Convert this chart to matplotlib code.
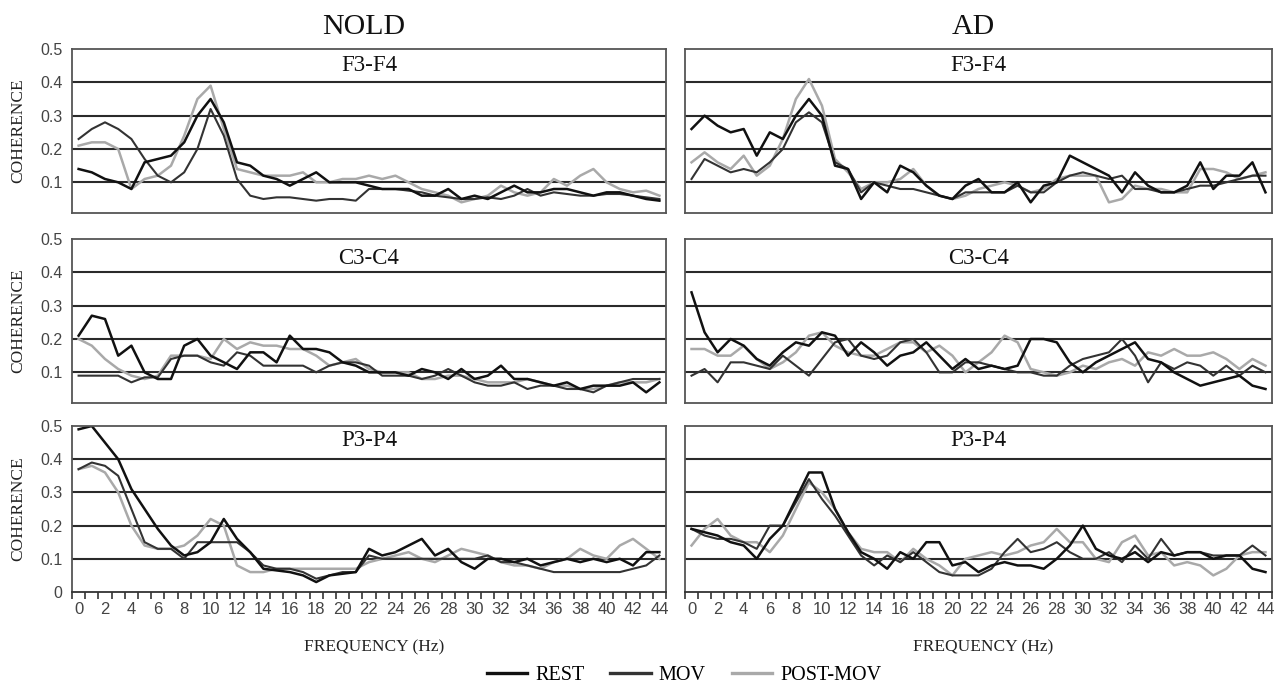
import numpy as np
import matplotlib
matplotlib.use("Agg")
import matplotlib.pyplot as plt
from matplotlib.lines import Line2D

freq = np.arange(45)
xtick_labels = [str(f) for f in range(0, 45, 2)]
groups = ["NOLD", "AD"]
pairs = ["F3-F4", "C3-C4", "P3-P4"]
conditions = ["REST", "MOV", "POST-MOV"]

# NOLD
nold_f3f4_rest = [0.14, 0.13, 0.11, 0.10, 0.08, 0.16, 0.17, 0.18, 0.22, 0.30,
                  0.35, 0.28, 0.16, 0.15, 0.12, 0.11, 0.09, 0.11, 0.13, 0.10,
                  0.10, 0.10, 0.09, 0.08, 0.08, 0.08, 0.06, 0.06, 0.08, 0.05,
                  0.06, 0.05, 0.07, 0.09, 0.07, 0.07, 0.08, 0.08, 0.07, 0.06,
                  0.07, 0.07, 0.06, 0.05, 0.045]
nold_f3f4_mov = [0.23, 0.26, 0.28, 0.26, 0.23, 0.17, 0.12, 0.10, 0.13, 0.20,
                 0.32, 0.24, 0.11, 0.06, 0.05, 0.055, 0.055, 0.05, 0.045, 0.05,
                 0.05, 0.045, 0.08, 0.08, 0.08, 0.075, 0.07, 0.06, 0.055, 0.05,
                 0.05, 0.055, 0.05, 0.06, 0.08, 0.06, 0.07, 0.065, 0.06, 0.06,
                 0.065, 0.065, 0.06, 0.055, 0.05]
nold_f3f4_post = [0.21, 0.22, 0.22, 0.20, 0.08, 0.11, 0.12, 0.15, 0.24, 0.35,
                  0.39, 0.26, 0.14, 0.13, 0.12, 0.12, 0.12, 0.13, 0.10, 0.10,
                  0.11, 0.11, 0.12, 0.11, 0.12, 0.10, 0.08, 0.07, 0.06, 0.04,
                  0.05, 0.06, 0.09, 0.07, 0.06, 0.07, 0.11, 0.09, 0.12, 0.14,
                  0.10, 0.08, 0.07, 0.075, 0.06]

nold_c3c4_rest = [0.21, 0.27, 0.26, 0.15, 0.18, 0.10, 0.08, 0.08, 0.18, 0.20,
                  0.15, 0.13, 0.11, 0.16, 0.16, 0.13, 0.21, 0.17, 0.17, 0.16,
                  0.13, 0.12, 0.10, 0.10, 0.10, 0.09, 0.11, 0.10, 0.08, 0.11,
                  0.08, 0.09, 0.12, 0.08, 0.08, 0.07, 0.06, 0.07, 0.05, 0.06,
                  0.06, 0.06, 0.07, 0.04, 0.07]
nold_c3c4_mov = [0.09, 0.09, 0.09, 0.09, 0.07, 0.085, 0.085, 0.14, 0.15, 0.15,
                 0.13, 0.12, 0.16, 0.15, 0.12, 0.12, 0.12, 0.12, 0.10, 0.12,
                 0.13, 0.13, 0.12, 0.09, 0.09, 0.09, 0.08, 0.09, 0.11, 0.09,
                 0.07, 0.06, 0.06, 0.07, 0.05, 0.06, 0.06, 0.05, 0.05, 0.04,
                 0.06, 0.07, 0.08, 0.08, 0.08]
nold_c3c4_post = [0.20, 0.18, 0.14, 0.11, 0.09, 0.08, 0.09, 0.15, 0.15, 0.15,
                  0.14, 0.20, 0.17, 0.19, 0.18, 0.18, 0.17, 0.17, 0.15, 0.12,
                  0.13, 0.14, 0.11, 0.10, 0.10, 0.10, 0.08, 0.08, 0.09, 0.09,
                  0.08, 0.07, 0.07, 0.07, 0.08, 0.07, 0.06, 0.06, 0.05, 0.05,
                  0.06, 0.07, 0.07, 0.07, 0.08]

nold_p3p4_rest = [0.49, 0.50, 0.45, 0.40, 0.31, 0.25, 0.19, 0.14, 0.11, 0.12,
                  0.15, 0.22, 0.16, 0.12, 0.07, 0.065, 0.06, 0.05, 0.03, 0.05,
                  0.055, 0.06, 0.13, 0.11, 0.12, 0.14, 0.16, 0.11, 0.13, 0.09,
                  0.07, 0.10, 0.10, 0.09, 0.10, 0.08, 0.09, 0.10, 0.09, 0.10,
                  0.09, 0.10, 0.08, 0.12, 0.12]
nold_p3p4_mov = [0.37, 0.39, 0.38, 0.35, 0.25, 0.15, 0.13, 0.13, 0.10, 0.15,
                 0.15, 0.15, 0.15, 0.12, 0.08, 0.07, 0.07, 0.06, 0.04, 0.05,
                 0.06, 0.06, 0.11, 0.10, 0.10, 0.10, 0.10, 0.10, 0.10, 0.10,
                 0.10, 0.11, 0.09, 0.09, 0.08, 0.07, 0.06, 0.06, 0.06, 0.06,
                 0.06, 0.06, 0.07, 0.08, 0.11]
nold_p3p4_post = [0.37, 0.38, 0.36, 0.30, 0.20, 0.14, 0.13, 0.13, 0.14, 0.17,
                  0.22, 0.20, 0.08, 0.06, 0.06, 0.07, 0.07, 0.07, 0.07, 0.07,
                  0.07, 0.07, 0.09, 0.10, 0.11, 0.12, 0.10, 0.09, 0.11, 0.13,
                  0.12, 0.11, 0.09, 0.08, 0.08, 0.07, 0.09, 0.10, 0.13, 0.11,
                  0.10, 0.14, 0.16, 0.13, 0.10]

# AD
ad_f3f4_rest = [0.26, 0.30, 0.27, 0.25, 0.26, 0.18, 0.25, 0.23, 0.30, 0.35,
                0.30, 0.15, 0.14, 0.05, 0.10, 0.07, 0.15, 0.13, 0.09, 0.06,
                0.05, 0.09, 0.11, 0.07, 0.07, 0.10, 0.04, 0.09, 0.10, 0.18,
                0.16, 0.14, 0.12, 0.07, 0.13, 0.09, 0.07, 0.07, 0.09, 0.16,
                0.08, 0.12, 0.12, 0.16, 0.07]
ad_f3f4_mov = [0.11, 0.17, 0.15, 0.13, 0.14, 0.13, 0.16, 0.20, 0.28, 0.31,
               0.28, 0.16, 0.14, 0.07, 0.10, 0.09, 0.08, 0.08, 0.07, 0.06,
               0.05, 0.07, 0.07, 0.07, 0.07, 0.09, 0.07, 0.07, 0.10, 0.12,
               0.13, 0.12, 0.11, 0.12, 0.08, 0.08, 0.07, 0.07, 0.08, 0.09,
               0.09, 0.10, 0.11, 0.12, 0.12]
ad_f3f4_post = [0.16, 0.19, 0.16, 0.14, 0.18, 0.12, 0.15, 0.23, 0.35, 0.41,
                0.33, 0.17, 0.13, 0.08, 0.10, 0.10, 0.11, 0.14, 0.09, 0.06,
                0.05, 0.06, 0.08, 0.09, 0.10, 0.09, 0.07, 0.08, 0.11, 0.12,
                0.12, 0.12, 0.04, 0.05, 0.09, 0.08, 0.08, 0.07, 0.07, 0.14,
                0.14, 0.13, 0.11, 0.12, 0.13]

ad_c3c4_rest = [0.34, 0.22, 0.16, 0.20, 0.18, 0.14, 0.12, 0.16, 0.19, 0.18,
                0.22, 0.21, 0.15, 0.19, 0.16, 0.12, 0.15, 0.16, 0.19, 0.15,
                0.11, 0.14, 0.11, 0.12, 0.11, 0.12, 0.20, 0.20, 0.19, 0.13,
                0.10, 0.13, 0.15, 0.17, 0.19, 0.14, 0.13, 0.10, 0.08, 0.06,
                0.07, 0.08, 0.09, 0.06, 0.05]
ad_c3c4_mov = [0.09, 0.11, 0.07, 0.13, 0.13, 0.12, 0.11, 0.15, 0.12, 0.09,
               0.14, 0.19, 0.20, 0.15, 0.14, 0.15, 0.19, 0.20, 0.16, 0.10,
               0.10, 0.13, 0.13, 0.12, 0.11, 0.10, 0.10, 0.09, 0.09, 0.12,
               0.14, 0.15, 0.16, 0.20, 0.15, 0.07, 0.13, 0.11, 0.13, 0.12,
               0.09, 0.12, 0.09, 0.12, 0.10]
ad_c3c4_post = [0.17, 0.17, 0.15, 0.15, 0.18, 0.14, 0.11, 0.13, 0.16, 0.21,
                0.22, 0.18, 0.16, 0.15, 0.15, 0.17, 0.19, 0.19, 0.16, 0.18,
                0.15, 0.10, 0.13, 0.16, 0.21, 0.19, 0.11, 0.10, 0.09, 0.10,
                0.12, 0.11, 0.13, 0.14, 0.12, 0.16, 0.15, 0.17, 0.15, 0.15,
                0.16, 0.14, 0.11, 0.14, 0.12]

ad_p3p4_rest = [0.19, 0.18, 0.17, 0.15, 0.14, 0.10, 0.16, 0.20, 0.28, 0.36,
                0.36, 0.25, 0.18, 0.12, 0.10, 0.07, 0.12, 0.10, 0.15, 0.15,
                0.08, 0.09, 0.06, 0.08, 0.09, 0.08, 0.08, 0.07, 0.10, 0.14,
                0.20, 0.13, 0.11, 0.10, 0.12, 0.09, 0.12, 0.11, 0.12, 0.12,
                0.10, 0.11, 0.11, 0.07, 0.06]
ad_p3p4_mov = [0.19, 0.17, 0.16, 0.16, 0.15, 0.13, 0.20, 0.20, 0.27, 0.34,
               0.28, 0.23, 0.17, 0.11, 0.08, 0.11, 0.09, 0.12, 0.09, 0.06,
               0.05, 0.05, 0.05, 0.07, 0.12, 0.16, 0.12, 0.13, 0.15, 0.12,
               0.10, 0.10, 0.12, 0.09, 0.14, 0.10, 0.16, 0.11, 0.12, 0.12,
               0.11, 0.11, 0.11, 0.14, 0.11]
ad_p3p4_post = [0.14, 0.19, 0.22, 0.17, 0.15, 0.15, 0.12, 0.17, 0.25, 0.33,
                0.30, 0.25, 0.18, 0.13, 0.12, 0.12, 0.09, 0.13, 0.10, 0.08,
                0.05, 0.10, 0.11, 0.12, 0.11, 0.12, 0.14, 0.15, 0.19, 0.15,
                0.15, 0.10, 0.09, 0.15, 0.17, 0.11, 0.12, 0.08, 0.09, 0.08,
                0.05, 0.07, 0.11, 0.12, 0.12]

panels = {
    ("NOLD", "F3-F4"): (nold_f3f4_rest, nold_f3f4_mov, nold_f3f4_post),
    ("NOLD", "C3-C4"): (nold_c3c4_rest, nold_c3c4_mov, nold_c3c4_post),
    ("NOLD", "P3-P4"): (nold_p3p4_rest, nold_p3p4_mov, nold_p3p4_post),
    ("AD", "F3-F4"): (ad_f3f4_rest, ad_f3f4_mov, ad_f3f4_post),
    ("AD", "C3-C4"): (ad_c3c4_rest, ad_c3c4_mov, ad_c3c4_post),
    ("AD", "P3-P4"): (ad_p3p4_rest, ad_p3p4_mov, ad_p3p4_post),
}

colors = {"REST": "#111111", "MOV": "#333333", "POST-MOV": "#a9a9a9"}
widths = {"REST": 1.8, "MOV": 1.5, "POST-MOV": 1.8}
serif = ["Liberation Serif", "DejaVu Serif"]
narrow = ["Liberation Sans Narrow", "Liberation Sans", "DejaVu Sans"]

W, H = 1281, 685
fig = plt.figure(figsize=(W / 100, H / 100), dpi=100)
fig.patch.set_facecolor("white")

# panel boxes in pixels (left, right) and (top, bottom)
cols_px = [(72, 666), (685, 1272)]
rows_px = [(49, 213), (239, 403), (426, 592)]
label_y = [0.90, 0.88, 0.915]
title_x = [364, 973]
xlabel_x = [374, 983]

for c, group in enumerate(groups):
    x0, x1 = cols_px[c]
    for r, pair in enumerate(pairs):
        y0, y1 = rows_px[r]
        ax = fig.add_axes([x0 / W, 1 - y1 / H, (x1 - x0) / W, (y1 - y0) / H])
        rest, mov, post = panels[(group, pair)]
        ax.plot(freq, post, color=colors["POST-MOV"], lw=widths["POST-MOV"])
        ax.plot(freq, mov, color=colors["MOV"], lw=widths["MOV"])
        ax.plot(freq, rest, color=colors["REST"], lw=widths["REST"])

        ax.set_xlim(-0.5, 44.5)
        if r == 2:
            ax.set_ylim(0, 0.5)
        else:
            ax.set_ylim(0.008, 0.5)
        for g in [0.1, 0.2, 0.3, 0.4]:
            ax.axhline(g, color="#2a2a2a", lw=1.5, zorder=0)
        for s in ax.spines.values():
            s.set_color("#555555")
            s.set_linewidth(1.3)

        ax.set_yticks([0.1, 0.2, 0.3, 0.4, 0.5] if r < 2 else [0, 0.1, 0.2, 0.3, 0.4, 0.5])
        ax.set_yticklabels(["0.1", "0.2", "0.3", "0.4", "0.5"] if r < 2
                           else ["0", "0.1", "0.2", "0.3", "0.4", "0.5"])
        ax.tick_params(axis="y", length=0, pad=7, labelsize=11.5, labelcolor="#444444",
                       labelleft=(c == 0))
        for lab in ax.get_yticklabels():
            lab.set_family(narrow)

        if r == 2:
            ax.set_xticks(range(0, 45, 2))
            ax.set_xticklabels(xtick_labels)
            ax.set_xticks(np.arange(-0.5, 45, 1), minor=True)
            ax.tick_params(axis="x", which="major", length=0, pad=7, labelsize=12,
                           labelcolor="#444444")
            ax.tick_params(axis="x", which="minor", length=5, width=1.2, color="#333333")
            for lab in ax.get_xticklabels():
                lab.set_family(narrow)
            ax.spines["bottom"].set_color("#333333")
        else:
            ax.set_xticks([])

        ax.text(0.5, label_y[r], pair, transform=ax.transAxes, ha="center", va="center",
                fontsize=16.5, family=serif, color="#111111")

    fig.text(title_x[c] / W, 1 - 27 / H, group, ha="center", va="center",
             fontsize=21.5, family=serif, color="#111111")
    fig.text(xlabel_x[c] / W, 1 - 647 / H, "FREQUENCY (Hz)", ha="center", va="center",
             fontsize=12.5, family=serif, color="#222222")

for r in range(3):
    y0, y1 = rows_px[r]
    fig.text(18 / W, 1 - (y0 + y1) / 2 / H, "COHERENCE", rotation=90, ha="center",
             va="center", fontsize=12.5, family=serif, color="#222222")

handles = [Line2D([], [], color=colors[k], lw=2.4) for k in conditions]
fig.legend(handles, conditions, loc="center", bbox_to_anchor=(684 / W, 1 - 675 / H),
           ncol=3, frameon=False, prop={"family": serif, "size": 14.5},
           handlelength=2.0, handletextpad=0.4, columnspacing=1.3,
           borderpad=0, borderaxespad=0)

fig.savefig("out.png", dpi=100, facecolor="white")
